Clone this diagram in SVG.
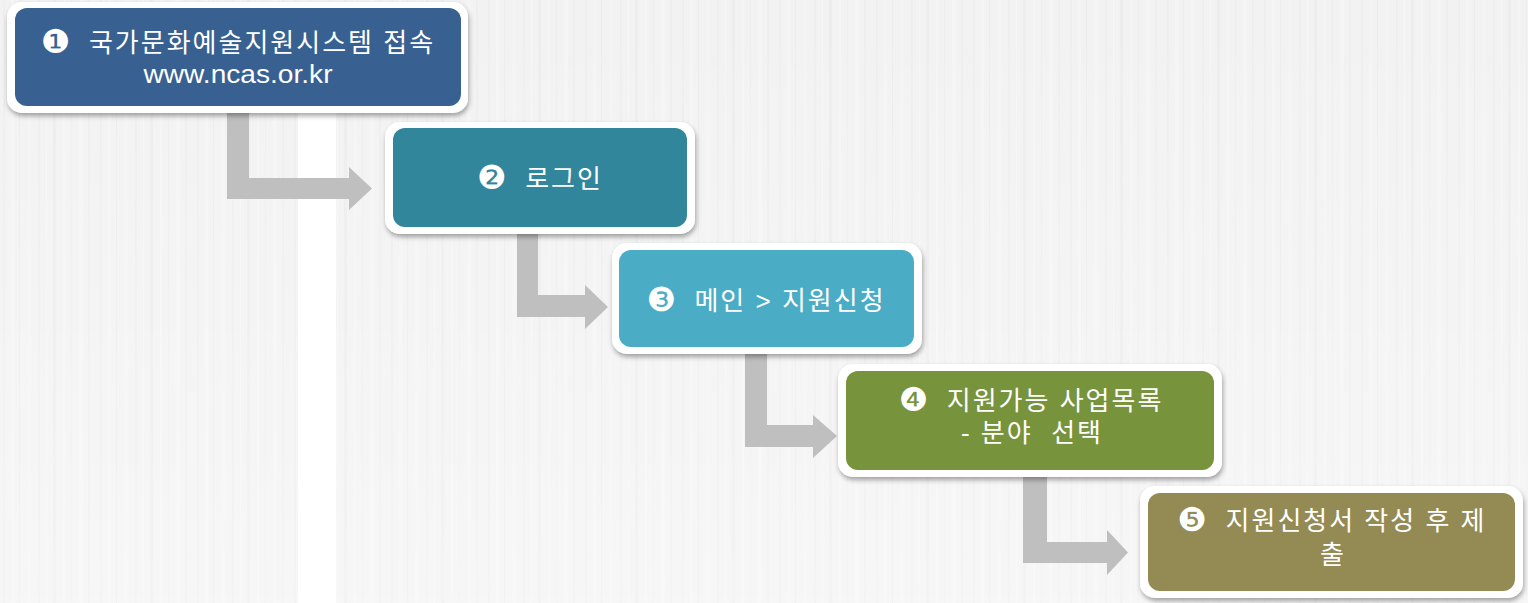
<svg xmlns="http://www.w3.org/2000/svg" width="1528" height="603" viewBox="0 0 1528 603">
  <style>
    .outer { fill: #ffffff; }
    .lbl { fill: #ffffff; font-family: "Liberation Sans", "Noto Sans CJK KR", "DejaVu Sans", sans-serif; font-size: 26px; letter-spacing: 2px; text-anchor: middle; white-space: pre; }
    .num { font-family: "DejaVu Sans", "Noto Sans CJK KR", sans-serif; font-size: 33px; letter-spacing: 0; }
    .conn { fill: #bfbfbf; }
  </style>
  <defs>
    <filter id="sh" x="-10%" y="-20%" width="120%" height="150%">
      <feDropShadow dx="1" dy="3" stdDeviation="2.5" flood-color="#000000" flood-opacity="0.35"/>
    </filter>
    <pattern id="stripes" x="0" y="0" width="97" height="603" patternUnits="userSpaceOnUse">
      <rect width="97" height="603" fill="#f2f2f2"/>
      <rect x="3" width="2" height="603" fill="#eeeeee"/>
      <rect x="11" width="3" height="603" fill="#f5f5f5"/>
      <rect x="19" width="1" height="603" fill="#ececec"/>
      <rect x="27" width="4" height="603" fill="#f4f4f4"/>
      <rect x="38" width="2" height="603" fill="#eeeeee"/>
      <rect x="46" width="1" height="603" fill="#f6f6f6"/>
      <rect x="53" width="3" height="603" fill="#ededed"/>
      <rect x="63" width="2" height="603" fill="#f5f5f5"/>
      <rect x="71" width="1" height="603" fill="#eeeeee"/>
      <rect x="79" width="4" height="603" fill="#f5f5f5"/>
      <rect x="88" width="2" height="603" fill="#eeeeee"/>
    </pattern>
    <linearGradient id="fade" x1="0" y1="0" x2="0" y2="1">
      <stop offset="0" stop-color="#ffffff" stop-opacity="0"/>
      <stop offset="1" stop-color="#ffffff" stop-opacity="0.35"/>
    </linearGradient>
  </defs>

  <g id="background">
    <rect x="0" y="0" width="1528" height="603" fill="url(#stripes)"/>
    <rect x="0" y="0" width="1528" height="603" fill="url(#fade)"/>
    <rect x="298" y="110" width="38" height="493" fill="#ffffff"/>
  </g>

  <g id="connectors">
    <polygon class="conn" points="227,110 249,110 249,178 349,178 349,167 372,188.5 349,210 349,199 227,199"/>
    <polygon class="conn" points="517,231 538,231 538,295 585,295 585,285 608,307 585,329 585,317 517,317"/>
    <polygon class="conn" points="745,351 767,351 767,425 813,425 813,415 837,436 813,458 813,447 745,447"/>
    <polygon class="conn" points="1023,473 1047,473 1047,542 1107,542 1107,530 1128,552.5 1107,575 1107,563 1023,563"/>
  </g>

  <g id="node1">
    <rect class="outer" x="7" y="2" width="461" height="111" rx="15" filter="url(#sh)"/>
    <rect x="15" y="8" width="446" height="98" rx="12" fill="#386192"/>
    <text class="lbl" x="238" y="52" xml:space="preserve"><tspan class="num" baseline-shift="-1">❶</tspan>  국가문화예술지원시스템 접속</text>
    <text class="lbl" x="238" y="83" textLength="189" lengthAdjust="spacingAndGlyphs" style="letter-spacing:0">www.ncas.or.kr</text>
  </g>

  <g id="node2">
    <rect class="outer" x="385" y="122" width="310" height="112" rx="15" filter="url(#sh)"/>
    <rect x="393" y="128" width="294" height="99" rx="12" fill="#32869c"/>
    <text class="lbl" x="540" y="188" xml:space="preserve"><tspan class="num" baseline-shift="-1">❷</tspan>  로그인</text>
  </g>

  <g id="node3">
    <rect class="outer" x="612" y="243" width="310" height="111" rx="15" filter="url(#sh)"/>
    <rect x="619" y="250" width="295" height="97" rx="12" fill="#4bacc6"/>
    <text class="lbl" x="766" y="310" xml:space="preserve"><tspan class="num" baseline-shift="-1">❸</tspan>  메인 &gt; 지원신청</text>
  </g>

  <g id="node4">
    <rect class="outer" x="838" y="364" width="384" height="113" rx="15" filter="url(#sh)"/>
    <rect x="846" y="371" width="368" height="99" rx="12" fill="#77933c"/>
    <text class="lbl" x="1031" y="410" xml:space="preserve"><tspan class="num" baseline-shift="-1">❹</tspan>  지원가능 사업목록</text>
    <text class="lbl" x="1032" y="442" xml:space="preserve">- 분야  선택</text>
  </g>

  <g id="node5">
    <rect class="outer" x="1140" y="486" width="383" height="112" rx="15" filter="url(#sh)"/>
    <rect x="1148" y="493" width="367" height="98" rx="12" fill="#948a54"/>
    <text class="lbl" x="1332" y="530" xml:space="preserve"><tspan class="num" baseline-shift="-1">❺</tspan>  지원신청서 작성 후 제</text>
    <text class="lbl" x="1333" y="564">출</text>
  </g>
</svg>
